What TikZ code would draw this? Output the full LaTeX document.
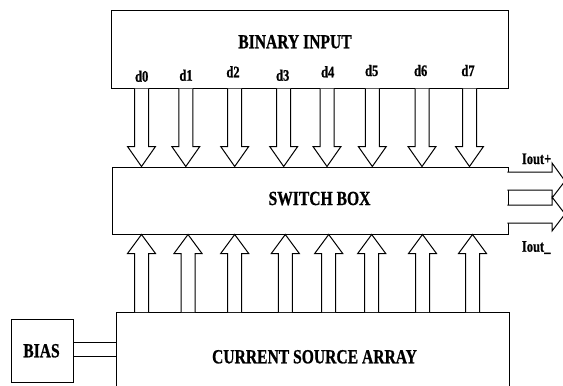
\documentclass[tikz,border=0pt]{standalone}
\usepackage{fontspec}
\setmainfont{Liberation Serif}[BoldFeatures={FakeBold=1}]
\newcommand\sq[1]{\scalebox{0.78}[1]{#1}}
\begin{document}
\begin{tikzpicture}[x=0.75pt,y=-0.75pt,
  box/.style={draw, line width=0.75pt, inner sep=0pt},
  blk/.style={draw, fill=white, line width=0.75pt},
  big/.style={font=\bfseries\fontsize{15}{18}\selectfont, inner sep=0pt, anchor=base},
  small/.style={font=\bfseries\fontsize{12}{14}\selectfont, inner sep=0pt, anchor=base}]
\useasboundingbox (0,0) rectangle (563,385);
\def\P{0.75pt}
% boxes
\node[box, minimum width=397*\P, minimum height=77*\P] (bin) at (309.5,49.5) {};
\node[box, minimum width=396*\P, minimum height=67*\P] (sw) at (310,200.5) {};
\node[box, minimum width=62*\P, minimum height=63*\P] (bias) at (42,350.5) {};
\path (116,312) coordinate (csaNW) (509,312) coordinate (csaNE);
\draw[line width=0.75pt] (116,400) coordinate (csaSW) -- (csaNW) -- (csaNE) -- (509,400) coordinate (csaSE);
% labels
\node[big] (binlab) at (295,48.3) {\sq{BINARY INPUT}};
\node[big] (swlab) at (319.5,205) {\sq{SWITCH BOX}};
\node[big] (csalab) at (314.5,363.3) {\sq{CURRENT SOURCE ARRAY}};
\node[big] (biaslab) at (41.5,357.3) {\sq{BIAS}};
% bias connection
\draw[line width=0.75pt] (bias.east |- 0,342) coordinate (b1) -- (b1 -| csaNW);
\draw[line width=0.75pt] (bias.east |- 0,356) coordinate (b2) -- (b2 -| csaNW);
% down arrows
\foreach \x in {141.5,185.8,234.7,283.7,327,372.3,422,469.5}{
  \coordinate (s) at (\x,0 |- bin.south);
  \coordinate (t) at (\x,0 |- sw.north);
  \draw[blk] ([xshift=-7*\P]s) -- ([xshift=-7*\P,yshift=20*\P]t) -- ([xshift=-14*\P,yshift=20*\P]t) -- (t)
     -- ([xshift=14*\P,yshift=20*\P]t) -- ([xshift=7*\P,yshift=20*\P]t) -- ([xshift=7*\P]s);
}
\foreach \x/\l/\b in {141.7/d0/81.7,186/d1/80.7,233/d2/77.3,282.7/d3/80.7,327.7/d4/77.3,371.7/d5/76,420.7/d6/76,468/d7/76}{
  \node[small] (lab-\l) at (\x,\b) {\sq{\l}};
}
% up arrows
\foreach \x in {141.5,188,234.7,285.3,328.7,371.7,422.5,472.5}{
  \coordinate (s) at (\x,0 |- csaNW);
  \coordinate (t) at (\x,0 |- sw.south);
  \draw[blk] ([xshift=-7*\P]s) -- ([xshift=-7*\P,yshift=-19*\P]t) -- ([xshift=-14*\P,yshift=-19*\P]t) -- (t)
     -- ([xshift=14*\P,yshift=-19*\P]t) -- ([xshift=7*\P,yshift=-19*\P]t) -- ([xshift=7*\P]s);
}
% output arrows
\coordinate (o1) at (507.3,181);
\coordinate (o2) at (507.3,214);
\draw[blk] ([yshift=9*\P]o1) -- ++(44.7,0) -- ++(0,-9) -- ++(13,18) -- ++(-13,17) -- ++(0,-8) -- ++(-44.7,0);
\draw[blk] ([yshift=9*\P]o2) -- ++(44.7,0) -- ++(0,-8) -- ++(13,17) -- ++(-13,17) -- ++(0,-8) -- ++(-44.7,0);
\node[small, anchor=base west] (ioutp) at (521.7,164) {\sq{Iout+}};
\node[small, anchor=base west] (ioutm) at (521.7,251.7) {\sq{Iout\_}};
\end{tikzpicture}
\end{document}
